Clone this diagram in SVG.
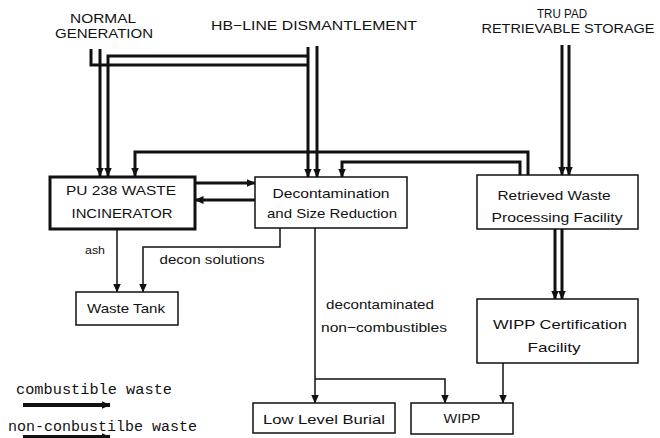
<svg xmlns="http://www.w3.org/2000/svg" width="660" height="438" viewBox="0 0 660 438">
<defs>
<marker id="ah" markerUnits="userSpaceOnUse" markerWidth="9" markerHeight="8" refX="8.5" refY="4" orient="auto">
<path d="M0,0 L9,4 L0,8 z" fill="#111"/>
</marker>
<style>
.box{fill:#fff;stroke:#111;stroke-width:1.5}
.boxt{fill:#fff;stroke:#111;stroke-width:3}
.thick{fill:none;stroke:#111;stroke-width:3}
.thin{fill:none;stroke:#111;stroke-width:1.5}
.arr{marker-end:url(#ah)}
text{font-family:"Liberation Sans",Arial,sans-serif;fill:#111;text-anchor:middle}
.top{font-size:13px}
.top2{font-size:12px}
.lbl{font-size:13px}
.small{font-size:11.5px}
.mono{font-family:"Liberation Mono","Courier New",monospace;font-size:14px;text-anchor:start}
</style>
</defs>
<rect width="660" height="438" fill="#fff"/>

<g id="sources">
<text class="top" x="103" y="23" textLength="66" lengthAdjust="spacingAndGlyphs">NORMAL</text>
<text class="top" x="104" y="38" textLength="98" lengthAdjust="spacingAndGlyphs">GENERATION</text>
<text class="top" x="314" y="30" textLength="206" lengthAdjust="spacingAndGlyphs">HB−LINE DISMANTLEMENT</text>
<text class="top2" x="562" y="18" textLength="50" lengthAdjust="spacingAndGlyphs">TRU PAD</text>
<text class="top2" x="568" y="33" textLength="173" lengthAdjust="spacingAndGlyphs">RETRIEVABLE STORAGE</text>
</g>

<g id="connectors">
<path class="thick arr" d="M100,49 V176"/>
<path class="thick" d="M91,49 V65 H308"/>
<path class="thick arr" d="M309,56 H108 V176"/>
<path class="thick arr" d="M308,47 V177"/>
<path class="thick arr" d="M317,46 V177"/>
<path class="thick arr" d="M528,175 V152 H135 V176"/>
<path class="thick arr" d="M520,175 V162 H342 V177"/>
<path class="thick arr" d="M562,45 V175"/>
<path class="thick arr" d="M569,45 V175"/>
<path class="thick arr" d="M555,229 V299"/>
<path class="thick arr" d="M562,229 V299"/>
<path class="thick arr" d="M195,183 H255"/>
<path class="thick arr" d="M255,200 H195"/>
<path class="thin arr" d="M117,229 V292"/>
<path class="thin arr" d="M280,228 V247 H143 V292"/>
<path class="thin arr" d="M315,228 V403"/>
<path class="thin arr" d="M315,379 H445 V403"/>
<path class="thin arr" d="M503,363 V403"/>
</g>

<g id="incinerator">
<rect class="boxt" x="50" y="177" width="145" height="52"/>
<text class="lbl" x="121" y="195" textLength="110" lengthAdjust="spacingAndGlyphs">PU 238 WASTE</text>
<text class="lbl" x="122" y="218" textLength="101" lengthAdjust="spacingAndGlyphs">INCINERATOR</text>
</g>

<g id="decon">
<rect class="box" x="255" y="177" width="152" height="51"/>
<text class="lbl" x="331" y="198" textLength="117" lengthAdjust="spacingAndGlyphs">Decontamination</text>
<text class="lbl" x="332" y="218" textLength="130" lengthAdjust="spacingAndGlyphs">and Size Reduction</text>
</g>

<g id="retrieved">
<rect class="box" x="477" y="175" width="161" height="54"/>
<text class="lbl" x="554" y="200" textLength="113" lengthAdjust="spacingAndGlyphs">Retrieved Waste</text>
<text class="lbl" x="557" y="222" textLength="131" lengthAdjust="spacingAndGlyphs">Processing Facility</text>
</g>

<g id="wippcert">
<rect class="box" x="477" y="299" width="161" height="64"/>
<text class="lbl" x="560" y="329" textLength="134" lengthAdjust="spacingAndGlyphs">WIPP Certification</text>
<text class="lbl" x="554" y="352" textLength="53" lengthAdjust="spacingAndGlyphs">Facility</text>
</g>

<g id="wastetank">
<rect class="box" x="76" y="292" width="102" height="33"/>
<text class="lbl" x="126" y="313" textLength="78" lengthAdjust="spacingAndGlyphs">Waste Tank</text>
</g>

<g id="llb">
<rect class="box" x="253" y="403" width="142" height="30"/>
<text class="lbl" x="324" y="424" textLength="122" lengthAdjust="spacingAndGlyphs">Low Level Burial</text>
</g>

<g id="wipp">
<rect class="box" x="411" y="403" width="102" height="31"/>
<text class="lbl" x="462" y="423" textLength="37" lengthAdjust="spacingAndGlyphs">WIPP</text>
</g>

<g id="labels">
<text class="small" x="95" y="254" textLength="20" lengthAdjust="spacingAndGlyphs">ash</text>
<text class="lbl" x="212" y="264" textLength="105" lengthAdjust="spacingAndGlyphs">decon solutions</text>
<text class="lbl" x="380" y="309" textLength="108" lengthAdjust="spacingAndGlyphs">decontaminated</text>
<text class="lbl" x="384" y="332" textLength="126" lengthAdjust="spacingAndGlyphs">non−combustibles</text>
</g>

<g id="legend">
<text class="mono" x="16" y="394" textLength="156" lengthAdjust="spacingAndGlyphs">combustible waste</text>
<path class="arr" d="M23,405 H110" fill="none" stroke="#111" stroke-width="4"/>
<text class="mono" x="8" y="431" textLength="189" lengthAdjust="spacingAndGlyphs">non-conbustilbe waste</text>
<path class="arr" d="M23,437 H110" fill="none" stroke="#111" stroke-width="4"/>
</g>
</svg>
